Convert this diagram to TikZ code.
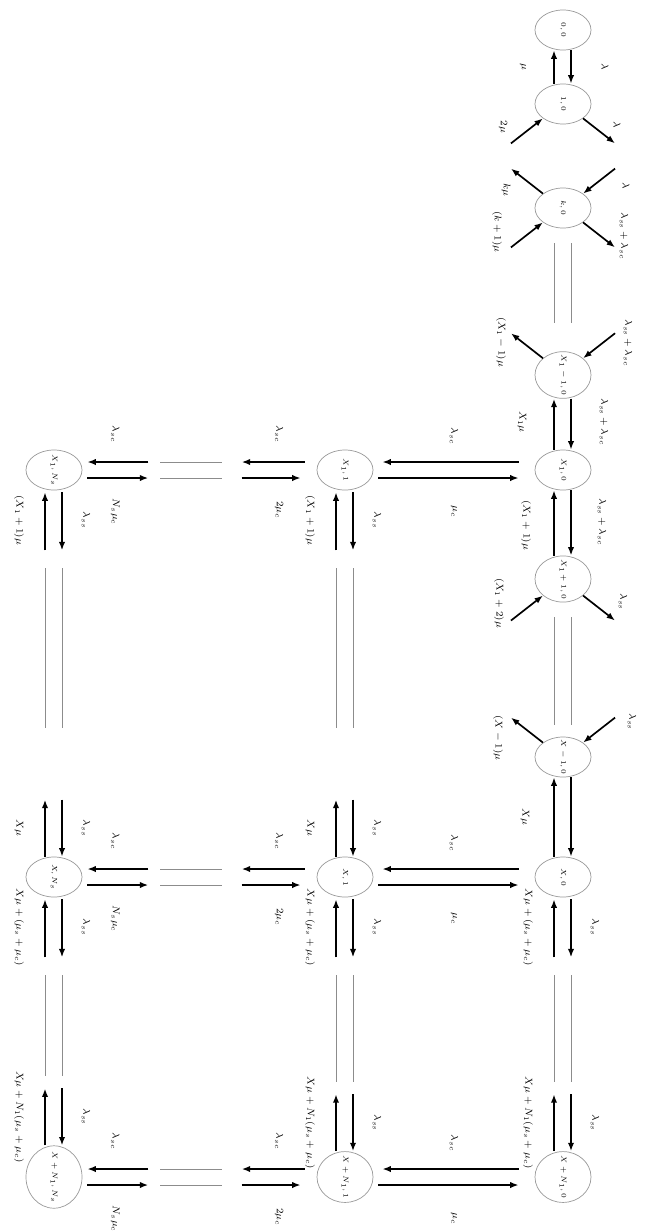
\documentclass[tikz,border=0pt]{standalone}
\usepackage{amsmath}
\usepackage{graphicx}
\usepackage{tikz}
\usetikzlibrary{shapes.geometric,arrows.meta,calc}

\begin{document}
\begin{tikzpicture}[x=0.025cm,y=-0.025cm,font=\scriptsize,
    state/.style={ellipse,draw=black!40,line width=0.5pt,minimum width=1.4cm,minimum height=1cm,inner sep=-2.5pt,font=\fontsize{4.5}{5}\selectfont},
    arr/.style={-{Latex[length=6pt,width=4.5pt]},line width=1.2pt},
    twin/.style={draw=black!45,line width=0.5pt},
    lab/.style={rotate=-90,inner sep=0pt}]
    \useasboundingbox (0,0) rectangle (648,1232);
    % states
    \foreach \n/\x/\y/\txt in {s00/563/30/{0,0}, s10/563/104/{1,0}, sk/563/208/{k,0}, sa/563/375/{X_1-1,0}, sb/563/470/{X_1,0}, sc/563/579/{X_1+1,0}, sd/563/757/{X-1,0}, se/563/877/{X,0}, sf/563/1177/{X+N_1,0}, m1/345/470/{X_1,1}, m2/345/877/{X,1}, m3/345/1177/{X+N_1,1}, l1/54/470/{X_1,N_s}, l2/54/877/{X,N_s}, l3/54/1177/{X+N_1,N_s}}
      \node[state] (\n) at (\x,\y) {\rotatebox{-90}{$\txt$}};
    % right column
    \foreach \na/\nb in {s00/s10, sa/sb, sb/sc, sd/se} {
      \draw[arr] ($(\nb.north)+(-9,0)$) -- ($(\na.south)+(-9,0)$);
      \draw[arr] ($(\na.south)+(8,0)$) -- ($(\nb.north)+(8,0)$);
    }
    \foreach \n/\a/\dx/\dy in {s10/south west/-32/25, sk/north east/32/-25, sk/south west/-32/25, sa/north east/32/-25, sc/south west/-32/25, sd/north east/32/-25}
      \draw[arr] ($(\n.\a)+(\dx,\dy)$) -- (\n.\a);
    \foreach \n/\a/\dx/\dy in {s10/south east/32/25, sk/north west/-32/-25, sk/south east/32/25, sa/north west/-32/-25, sc/south east/32/25, sd/north west/-32/-25}
      \draw[arr] (\n.\a) -- ($(\n.\a)+(\dx,\dy)$);
    \foreach \na/\nb/\g in {sk/sa/28, sc/sd/12} {
      \draw[twin] ($(\na.south)+(-9,15)$) -- ($(\nb.north)+(-9,-\g)$);
      \draw[twin] ($(\na.south)+(8,15)$) -- ($(\nb.north)+(8,-\g)$);
    }
    \node[lab] (q1) at (523,67) {$\mu$};
    \node[lab] (q2) at (605,67) {$\lambda$};
    \node[lab] (q3) at (503,127) {$2\mu$};
    \node[lab] (q4) at (617,125) {$\lambda$};
    \node[lab] (q5) at (506,190) {$k\mu$};
    \node[lab] (q6) at (626,186) {$\lambda$};
    \node[lab] (q7) at (497,232) {$(k+1)\mu$};
    \node[lab] (q8) at (624,236) {$\lambda_{ss}+\lambda_{sc}$};
    \node[lab] (q9) at (501,342) {$(X_1-1)\mu$};
    \node[lab] (q10) at (628,343) {$\lambda_{ss}+\lambda_{sc}$};
    \node[lab] (q11) at (522,422) {$X_1\mu$};
    \node[lab] (q12) at (604,422) {$\lambda_{ss}+\lambda_{sc}$};
    \node[lab] (q13) at (526,525) {$(X_1+1)\mu$};
    \node[lab] (q14) at (602,522) {$\lambda_{ss}+\lambda_{sc}$};
    \node[lab] (q15) at (499,603) {$(X_1+2)\mu$};
    \node[lab] (q16) at (623,602) {$\lambda_{ss}$};
    \node[lab] (q17) at (498,738) {$(X-1)\mu$};
    \node[lab] (q18) at (632,722) {$\lambda_{ss}$};
    \node[lab] (q19) at (525,817) {$X\mu$};
    % columns going down
    \foreach \na/\nb/\g/\ua/\ub in {m1/m2/72/{$(X_1+1)\mu$}/{$X\mu$}, l1/l2/72/{$(X_1+1)\mu$}/{$X\mu$}, se/sf/12/{$X\mu+(\mu_s+\mu_c)$}/{$X\mu+N_1(\mu_s+\mu_c)$}, m2/m3/12/{$X\mu+(\mu_s+\mu_c)$}/{$X\mu+N_1(\mu_s+\mu_c)$}, l2/l3/12/{$X\mu+(\mu_s+\mu_c)$}/{$X\mu+N_1(\mu_s+\mu_c)$}} {
      \coordinate (\na-up) at ($(\na.south)+(0,60)$);
      \coordinate (\nb-dn) at ($(\nb.north)+(0,-57)$);
      \draw[arr] ($(\na-up)+(-9,0)$) -- ($(\na.south)+(-9,2)$);
      \draw[arr] ($(\na.south)+(8,2)$) -- ($(\na-up)+(8,0)$);
      \draw[twin] ($(\na-up)+(-9,18)$) -- ($(\nb-dn)+(-9,-\g)$);
      \draw[twin] ($(\na-up)+(8,18)$) -- ($(\nb-dn)+(8,-\g)$);
      \draw[arr] ($(\nb.north)+(-9,0)$) -- ($(\nb-dn)+(-9,0)$);
      \draw[arr] ($(\nb-dn)+(8,0)$) -- ($(\nb.north)+(8,0)$);
      \node[lab] (\na-p) at ($(\na.south)!.5!(\na-up)+(-35,0)$) {\ua};
      \node[lab] (\na-q) at ($(\na.south)!.5!(\na-up)+(32,0)$) {$\lambda_{ss}$};
      \node[lab] (\nb-p) at ($(\nb.north)!.5!(\nb-dn)+(-35,0)$) {\ub};
      \node[lab] (\nb-q) at ($(\nb.north)!.5!(\nb-dn)+(32,0)$) {$\lambda_{ss}$};
    }
    % rows going left
    \foreach \r/\m/\l/\i in {sb/m1/l1/1, se/m2/l2/2, sf/m3/l3/3} {
      \coordinate (gr\i) at ($(\m.west)+(-75,0)$);
      \coordinate (gl\i) at ($(\l.east)+(66,0)$);
      \draw[arr] ($(\r.west)+(-16,-8)$) -- ($(\m.east)+(9,-8)$);
      \draw[arr] ($(\m.east)+(5,8)$) -- ($(\r.west)+(-16,8)$);
      \draw[arr] ($(\m.west)+(-12,-8)$) -- ($(gr\i)+(0,-8)$);
      \draw[arr] ($(gr\i)+(0,8)$) -- ($(\m.west)+(-16,8)$);
      \draw[twin] ($(gr\i)+(-20,-8)$) -- ($(gl\i)+(12,-8)$);
      \draw[twin] ($(gr\i)+(-20,8)$) -- ($(gl\i)+(12,8)$);
      \draw[arr] ($(gl\i)+(0,-8)$) -- ($(\l.east)+(5,-8)$);
      \draw[arr] ($(\l.east)+(5,8)$) -- ($(gl\i)+(0,8)$);
      \node[lab] (ra\i) at ($(\r.west)!.5!(\m.east)+(0,-34)$) {$\lambda_{sc}$};
      \node[lab] (rb\i) at ($(\r.west)!.5!(\m.east)+(0,42)$) {$\mu_c$};
      \node[lab] (ma\i) at ($(gr\i)!.5!(\m.west)+(0,-36)$) {$\lambda_{sc}$};
      \node[lab] (mb\i) at ($(gr\i)!.5!(\m.west)+(0,40)$) {$2\mu_c$};
      \node[lab] (la\i) at ($(gl\i)!.5!(\l.east)+(0,-36)$) {$\lambda_{sc}$};
      \node[lab] (lb\i) at ($(gl\i)!.5!(\l.east)+(0,42)$) {$N_s\mu_c$};
    }
\end{tikzpicture}
\end{document}
